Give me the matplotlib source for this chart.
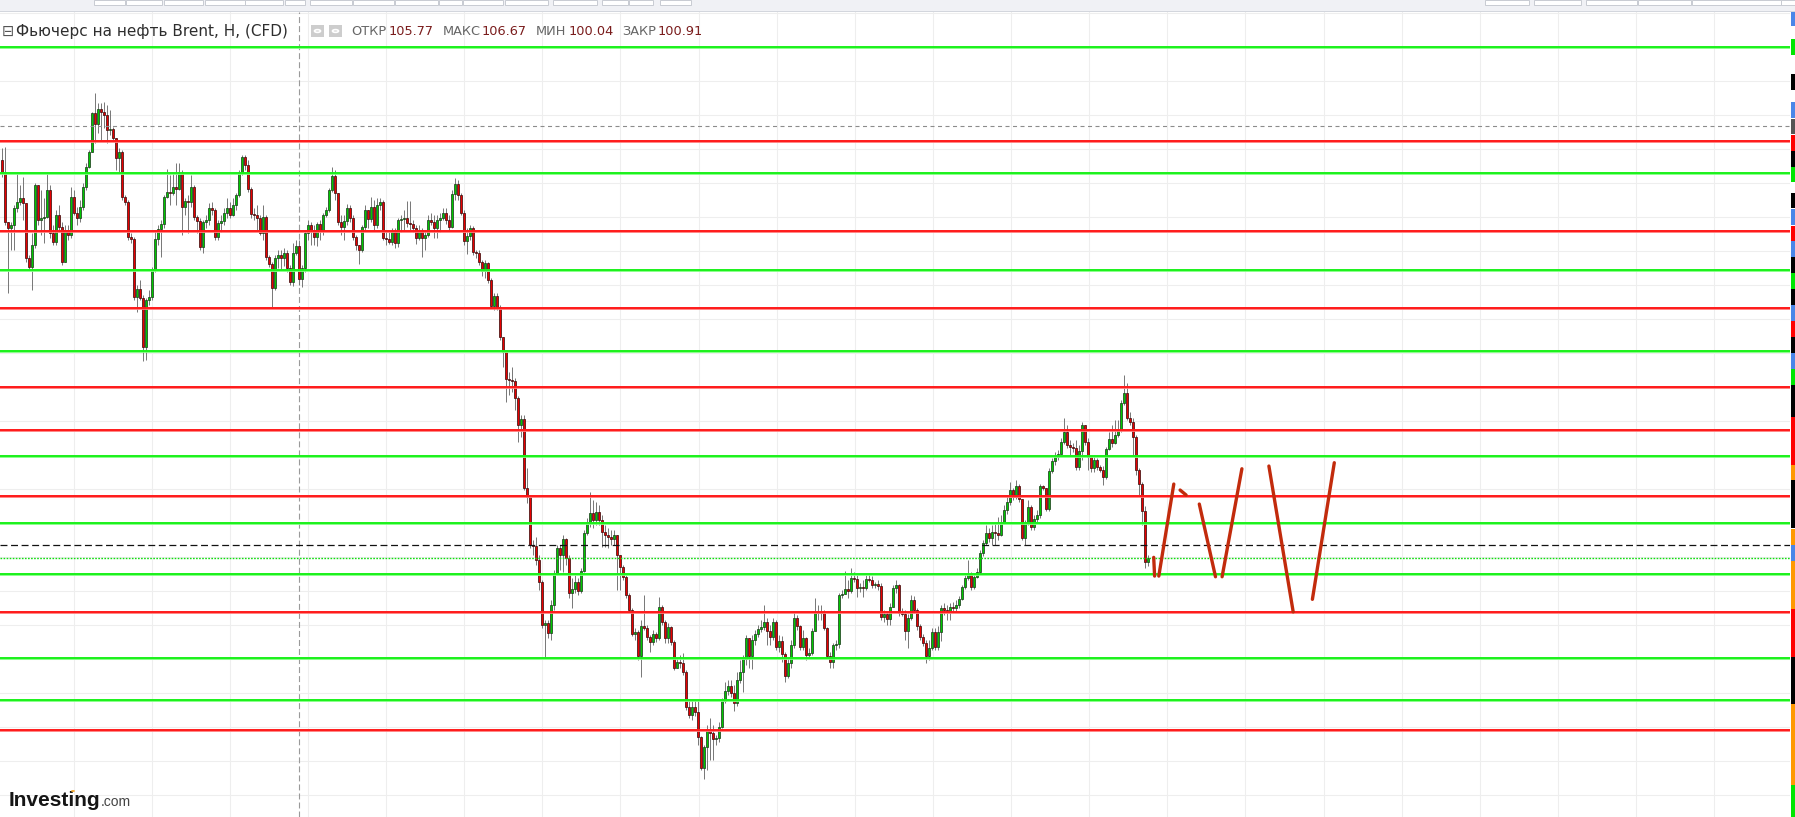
import numpy as np
import matplotlib
matplotlib.use("Agg")
import matplotlib.pyplot as plt
from matplotlib.patches import Rectangle, Circle

plt.rcParams['font.family'] = ['DejaVu Sans']
plt.rcParams['lines.scale_dashes'] = False

# ---------------- data ----------------
title = "Фьючерс на нефть Brent, Н, (CFD)"
ohlc_labels = ["ОТКР", "МАКС", "МИН", "ЗАКР"]
ohlc_values = ["105.77", "106.67", "100.04", "100.91"]

first_open = 118.43
closes = [
    116.67, 109.31, 108.43, 108.87, 111.37, 112.26, 112.84, 112.11, 104.02, 102.70,
    105.93, 114.76, 109.61, 109.90, 110.05, 114.02, 107.70, 106.37, 110.34, 108.58,
    103.43, 108.14, 107.40, 113.00, 110.64, 109.90, 111.52, 114.46, 117.40, 119.61,
    125.34, 123.73, 125.93, 125.49, 125.05, 122.84, 122.99, 121.67, 118.72, 119.61,
    113.00, 112.26, 107.11, 106.81, 98.29, 99.46, 98.14, 90.93, 97.84, 98.29,
    102.40, 106.81, 108.28, 109.02, 113.00, 113.73, 113.58, 114.46, 114.17, 116.67,
    111.52, 112.40, 112.26, 114.46, 110.05, 109.46, 105.64, 109.31, 109.61, 111.37,
    111.08, 107.11, 109.17, 109.46, 110.64, 111.37, 110.34, 111.81, 113.29, 116.67,
    118.87, 117.70, 114.17, 110.49, 110.34, 109.90, 107.70, 110.05, 104.17, 103.14,
    99.61, 104.02, 104.46, 104.02, 104.76, 102.55, 100.49, 104.76, 105.77, 100.91,
    102.55, 107.70, 108.87, 108.14, 107.11, 109.02, 108.14, 110.34, 111.08, 114.02,
    116.08, 113.58, 109.31, 108.58, 109.46, 111.37, 109.90, 107.11, 105.93, 105.20,
    108.58, 111.08, 109.75, 111.52, 108.87, 111.81, 112.26, 106.96, 106.81, 106.37,
    107.84, 106.22, 109.61, 109.75, 109.90, 109.17, 109.02, 108.43, 106.96, 108.14,
    106.96, 107.40, 109.61, 109.31, 108.43, 109.61, 109.90, 110.64, 109.61, 108.58,
    113.43, 114.90, 113.29, 110.64, 106.52, 107.25, 108.43, 104.90, 104.76, 103.43,
    102.11, 103.29, 100.79, 96.96, 98.43, 96.81, 92.40, 90.20, 86.23, 86.08,
    85.94, 83.43, 79.46, 80.35, 70.20, 68.87, 61.82, 61.67, 59.61, 56.37,
    50.05, 50.35, 48.87, 53.00, 57.70, 61.37, 60.35, 62.70, 59.90, 54.76,
    55.35, 56.37, 55.05, 57.99, 63.58, 65.20, 66.52, 65.49, 66.67, 65.49,
    63.73, 63.29, 62.99, 62.70, 63.29, 60.35, 58.58, 57.11, 54.47, 52.26,
    48.73, 49.02, 45.49, 49.90, 49.61, 48.29, 47.55, 48.73, 48.14, 52.70,
    50.49, 48.14, 49.76, 47.55, 43.73, 44.61, 44.46, 43.14, 37.99, 36.82,
    37.99, 37.26, 33.58, 29.02, 32.11, 34.76, 34.17, 33.29, 33.43, 35.05,
    38.87, 40.35, 41.08, 40.05, 38.58, 41.97, 43.14, 45.05, 48.14, 45.49,
    47.85, 48.73, 49.46, 49.76, 50.49, 49.17, 48.29, 50.49, 46.82, 47.70,
    45.79, 42.55, 44.46, 47.11, 51.08, 49.90, 46.82, 48.14, 45.64, 45.93,
    49.17, 51.82, 51.96, 51.82, 49.61, 45.49, 44.61, 47.11, 47.26, 54.47,
    54.61, 55.35, 55.05, 56.96, 56.81, 55.49, 55.64, 55.49, 56.81, 56.67,
    55.94, 56.08, 55.79, 51.23, 51.67, 50.93, 52.70, 55.49, 55.94, 51.82,
    51.67, 49.17, 51.08, 53.73, 52.26, 49.90, 48.29, 47.40, 45.49, 46.67,
    49.02, 46.82, 49.02, 52.55, 52.26, 51.96, 52.70, 52.55, 53.00, 53.88,
    55.64, 56.96, 57.55, 55.64, 57.11, 57.84, 60.64, 62.11, 63.58, 62.84,
    63.73, 63.58, 63.29, 65.20, 66.96, 68.14, 69.91, 68.87, 70.49, 68.58,
    62.84, 65.05, 67.40, 64.46, 65.64, 66.23, 70.49, 70.20, 67.11, 72.70,
    74.17, 74.76, 75.20, 76.96, 78.43, 76.52, 76.23, 76.08, 73.29, 75.64,
    79.46, 76.96, 74.76, 73.14, 74.32, 73.29, 72.85, 71.82, 75.93, 77.40,
    76.81, 77.99, 78.73, 82.70, 84.17, 80.49, 79.90, 77.70, 72.85, 70.79,
    66.81, 59.32, 59.90,
]
highs = [
    120.19, 120.34, 109.31, 109.31, 111.81, 116.52, 114.76, 115.94, 111.81, 104.46,
    107.70, 115.05, 114.31, 114.02, 112.84, 116.52, 114.76, 108.87, 111.08, 111.81,
    109.31, 108.87, 108.87, 114.46, 114.02, 111.52, 112.55, 115.05, 117.99, 119.90,
    125.49, 128.28, 126.81, 126.81, 126.96, 126.52, 125.78, 123.29, 121.67, 120.19,
    119.90, 113.29, 112.55, 107.70, 107.11, 100.05, 100.79, 98.58, 98.14, 99.32,
    102.70, 108.14, 108.87, 109.61, 113.29, 117.11, 116.23, 116.52, 117.99, 117.99,
    116.96, 112.84, 113.29, 116.23, 114.76, 110.34, 109.90, 109.61, 110.34, 112.11,
    112.26, 111.37, 109.61, 110.34, 111.37, 112.84, 112.26, 112.84, 113.58, 116.96,
    119.17, 119.17, 118.43, 114.46, 111.37, 111.81, 110.34, 111.81, 110.34, 104.46,
    103.43, 104.46, 105.20, 105.20, 105.49, 105.20, 102.99, 106.22, 106.67, 106.67,
    102.99, 108.14, 109.61, 109.31, 108.87, 109.31, 109.61, 110.64, 111.52, 114.31,
    117.40, 116.96, 113.58, 110.34, 110.34, 111.96, 111.81, 110.34, 107.40, 105.93,
    108.87, 111.81, 111.08, 113.00, 112.55, 112.84, 112.84, 112.55, 108.14, 108.14,
    108.43, 108.43, 109.90, 110.34, 111.08, 112.40, 112.40, 109.61, 108.87, 108.87,
    108.43, 108.14, 110.34, 110.64, 110.34, 110.34, 110.64, 111.37, 111.37, 110.34,
    114.02, 115.79, 115.49, 113.58, 111.08, 108.43, 108.87, 108.72, 105.20, 105.20,
    103.73, 103.73, 103.43, 101.08, 98.87, 98.87, 97.11, 92.26, 90.20, 87.26,
    87.99, 86.37, 83.73, 80.93, 80.93, 73.14, 69.17, 62.55, 63.00, 60.35,
    56.67, 50.79, 50.79, 53.73, 58.14, 61.82, 61.82, 63.29, 62.84, 60.35,
    56.96, 57.41, 56.96, 58.43, 64.02, 65.79, 69.61, 68.43, 68.14, 67.70,
    66.23, 64.76, 64.32, 64.02, 64.02, 63.29, 60.35, 58.88, 57.41, 54.76,
    52.55, 49.61, 49.32, 50.79, 54.47, 50.05, 48.58, 49.32, 49.02, 54.17,
    53.00, 50.79, 50.35, 49.90, 47.85, 45.19, 45.64, 45.93, 43.44, 39.02,
    39.02, 39.02, 39.02, 33.73, 32.41, 35.35, 36.38, 35.35, 33.88, 35.79,
    39.32, 41.67, 41.97, 41.97, 41.23, 43.14, 44.91, 45.64, 48.58, 47.85,
    48.58, 49.32, 50.05, 50.79, 53.00, 51.08, 50.05, 51.08, 50.79, 48.58,
    48.43, 46.08, 45.19, 47.85, 51.96, 51.52, 50.05, 49.32, 48.29, 46.67,
    49.61, 54.02, 53.00, 53.00, 52.26, 49.76, 46.08, 47.40, 47.85, 54.76,
    55.20, 57.99, 56.67, 58.43, 57.84, 57.41, 56.23, 56.67, 57.41, 57.55,
    57.26, 56.37, 56.67, 56.23, 52.26, 51.96, 53.29, 55.94, 56.67, 56.08,
    52.55, 52.26, 51.67, 54.47, 54.32, 52.55, 50.20, 48.73, 47.85, 47.85,
    49.61, 49.61, 49.90, 53.00, 53.29, 53.00, 53.29, 53.43, 53.73, 54.32,
    55.94, 57.41, 59.61, 57.84, 57.55, 58.43, 61.08, 62.55, 64.76, 64.32,
    64.76, 65.20, 65.93, 66.23, 67.70, 69.17, 71.08, 70.20, 71.38, 70.79,
    68.58, 65.49, 68.43, 67.70, 66.23, 66.96, 70.79, 70.64, 70.20, 73.14,
    74.61, 75.49, 75.79, 77.55, 80.49, 79.46, 77.26, 76.81, 77.26, 76.52,
    79.90, 79.17, 77.55, 75.05, 75.05, 74.61, 73.58, 73.43, 76.23, 78.43,
    79.46, 80.20, 80.20, 83.14, 86.82, 85.64, 81.37, 80.49, 77.99, 73.14,
    71.08, 67.55, 60.35,
]
lows = [
    115.94, 108.87, 98.87, 105.20, 105.20, 110.79, 111.81, 109.61, 103.43, 102.26,
    99.32, 105.49, 108.87, 107.40, 106.22, 109.90, 106.96, 105.93, 105.93, 107.84,
    102.99, 103.43, 106.67, 106.96, 110.34, 108.87, 109.31, 111.08, 114.02, 117.26,
    119.61, 120.93, 122.40, 121.37, 123.14, 120.93, 122.11, 121.37, 116.96, 116.67,
    112.55, 111.81, 106.67, 106.22, 97.84, 96.08, 97.84, 88.87, 89.02, 97.11,
    97.84, 101.96, 105.93, 104.17, 108.43, 112.84, 111.81, 113.29, 111.81, 114.02,
    107.40, 110.34, 107.70, 111.52, 109.61, 107.70, 105.20, 104.76, 108.43, 108.87,
    110.34, 106.67, 106.67, 107.84, 108.87, 109.90, 109.90, 110.20, 111.08, 113.00,
    116.23, 116.96, 113.73, 109.90, 109.61, 108.14, 107.40, 106.67, 103.73, 102.70,
    96.81, 99.32, 102.55, 102.26, 102.84, 101.96, 100.05, 99.90, 104.46, 100.04,
    99.76, 101.96, 106.67, 105.93, 105.93, 105.79, 106.67, 107.40, 110.05, 110.79,
    113.73, 112.55, 108.87, 107.40, 106.67, 108.87, 109.31, 106.67, 105.20, 103.14,
    104.90, 108.14, 108.43, 109.31, 108.14, 108.43, 111.08, 106.67, 105.93, 106.08,
    105.93, 105.49, 105.64, 107.84, 108.14, 108.58, 108.14, 107.84, 106.08, 106.67,
    104.17, 105.20, 107.11, 108.87, 106.96, 106.96, 107.84, 109.61, 109.02, 108.14,
    108.43, 112.55, 112.55, 110.34, 105.93, 104.61, 106.67, 104.46, 104.02, 102.99,
    101.37, 101.08, 100.35, 96.67, 96.37, 96.37, 91.96, 87.99, 82.84, 83.88,
    84.31, 81.67, 76.96, 77.70, 69.91, 67.99, 61.37, 60.35, 58.88, 55.20,
    49.61, 45.19, 48.14, 47.85, 52.26, 57.41, 58.14, 57.84, 58.88, 54.02,
    52.55, 54.76, 54.47, 54.76, 57.84, 63.29, 64.46, 64.32, 64.76, 64.76,
    61.52, 61.52, 61.37, 61.82, 61.82, 55.20, 55.20, 56.67, 54.02, 51.96,
    48.43, 47.85, 44.91, 42.40, 49.32, 47.85, 46.08, 47.11, 47.55, 47.85,
    50.05, 47.40, 47.40, 47.11, 43.44, 43.88, 43.73, 42.70, 37.55, 36.38,
    36.08, 36.67, 32.41, 28.73, 27.41, 28.73, 30.20, 30.20, 32.41, 32.84,
    34.90, 38.58, 39.76, 39.46, 37.40, 38.14, 41.52, 40.20, 44.17, 43.73,
    43.58, 47.11, 48.29, 49.02, 49.32, 47.11, 47.11, 47.85, 46.38, 46.08,
    44.61, 41.67, 42.26, 43.73, 46.67, 49.32, 46.38, 46.38, 44.91, 45.35,
    45.64, 49.61, 50.79, 50.79, 49.32, 45.19, 43.73, 43.73, 46.38, 46.67,
    54.02, 54.91, 54.02, 54.76, 56.37, 54.17, 54.91, 54.17, 55.20, 56.37,
    55.49, 55.49, 55.20, 50.79, 50.49, 50.05, 50.05, 53.43, 54.76, 51.37,
    51.37, 47.85, 46.67, 50.79, 51.82, 49.32, 47.85, 46.96, 44.46, 44.91,
    46.38, 46.38, 46.38, 47.70, 51.52, 50.79, 50.79, 51.96, 51.96, 52.55,
    53.73, 55.35, 56.67, 55.20, 55.35, 56.96, 57.55, 60.20, 61.82, 62.26,
    61.82, 61.82, 62.55, 63.14, 64.90, 66.38, 67.70, 68.43, 68.58, 68.14,
    62.55, 61.82, 64.76, 64.02, 64.02, 65.20, 65.79, 69.91, 66.81, 66.81,
    72.40, 73.58, 74.32, 75.90, 76.67, 76.08, 75.05, 75.49, 72.85, 72.85,
    74.32, 76.52, 72.85, 72.55, 72.55, 72.85, 72.55, 70.64, 71.52, 75.79,
    76.23, 76.67, 77.70, 78.43, 82.40, 80.20, 79.46, 75.05, 72.11, 69.17,
    64.76, 58.43, 58.73,
]

green_levels = [135.12, 116.59, 102.21, 90.34, 74.85, 65.00, 57.61, 45.15, 38.97]
red_levels = [121.27, 107.96, 96.62, 85.00, 78.68, 68.98, 51.92, 34.61]
gray_dash_level = 123.43
black_dash_level = 61.77
last_price = 59.87
crosshair_idx = 99

forecast_strokes = [
    [(383.9, 60.00), (384.2, 57.25)],
    [(385.6, 57.25), (390.6, 70.78)],
    [(392.7, 69.90), (394.7, 69.17)],
    [(399.1, 67.84), (404.5, 57.15)],
    [(406.7, 57.15), (413.3, 73.03)],
    [(422.3, 73.43), (430.4, 51.98)],
    [(436.8, 53.83), (444.1, 73.92)],
]

# ---------------- figure ----------------
W, H = 1795, 817
fig = plt.figure(figsize=(W / 100, H / 100), dpi=100)
fig.patch.set_facecolor('white')


def fx(px):
    return px / W


def fy(py):
    return 1 - py / H


ax = fig.add_axes([0, 0, 1790 / W, (H - 12) / H])
ax.set_xlim(-0.667, 596.0)
ax.set_ylim(21.82, 140.20)
for s in ax.spines.values():
    s.set_visible(False)
ax.set_xticks([])
ax.set_yticks([])

# grid
for p in np.arange(25, 141, 5):
    ax.axhline(p, color='#eeeeee', lw=0.8, zorder=0)
for gx in np.arange(23.87, 597, 26.04):
    ax.axvline(gx, color='#eeeeee', lw=0.8, zorder=0)

n = len(closes)
assert len(highs) == n and len(lows) == n, (n, len(highs), len(lows))
c = np.array(closes)
o = np.concatenate([[first_open], c[:-1]])
h = np.maximum(np.array(highs), np.maximum(o, c))
l = np.minimum(np.array(lows), np.minimum(o, c))
x = np.arange(n)
up = c >= o

ax.vlines(x, l, h, color='#767676', lw=0.7, zorder=2)
bot = np.minimum(o, c)
hgt = np.maximum(np.abs(c - o), 0.06)
ax.bar(x[up], hgt[up], bottom=bot[up], width=0.8, color='#00c800',
       edgecolor='#1f3f1f', linewidth=0.55, zorder=3)
ax.bar(x[~up], hgt[~up], bottom=bot[~up], width=0.8, color='#e80000',
       edgecolor='#401010', linewidth=0.55, zorder=3)

# crosshair
ax.axvline(crosshair_idx, color='#9a9a9a', lw=0.8, dashes=(4.3, 2.2), zorder=1)

# levels
for p in green_levels:
    ax.axhline(p, color='#80ff80', lw=2.0, zorder=4)
    ax.axhline(p, color='#00ee00', lw=1.1, zorder=4.1)
for p in red_levels:
    ax.axhline(p, color='#ff7a7a', lw=2.0, zorder=4)
    ax.axhline(p, color='#ff0000', lw=1.1, zorder=4.1)
ax.axhline(gray_dash_level, color='#8c8c8c', lw=0.8, dashes=(2.9, 2.5), zorder=4)
ax.axhline(black_dash_level, color='#111111', lw=0.9, dashes=(5.0, 2.6), zorder=4)
ax.axhline(last_price, color='#11dd11', lw=1.0, dashes=(1.2, 1.0), zorder=4)

# hand drawn forecast
for seg in forecast_strokes:
    xs = [pt[0] for pt in seg]
    ys = [pt[1] for pt in seg]
    ax.plot(xs, ys, color='#c22b0c', lw=2.4, solid_capstyle='round', zorder=6)

# ---------------- decorations ----------------
# toolbar
fig.add_artist(Rectangle((0, fy(11)), 1, 11 / H, transform=fig.transFigure,
                         facecolor='#f0f1f5', edgecolor='none', zorder=10))
fig.add_artist(Rectangle((0, fy(12)), 1, 1 / H, transform=fig.transFigure,
                         facecolor='#d3d6dd', edgecolor='none', zorder=10))
buttons = [(94, 125), (126, 162), (164, 203), (205, 245), (245, 283), (285, 305),
           (310, 352), (353, 394), (395, 438), (439, 462), (463, 503), (505, 548),
           (553, 597), (602, 628), (629, 653), (660, 691), (1485, 1529),
           (1534, 1581), (1586, 1637), (1638, 1691), (1692, 1781), (1781, 1795)]
for (a, b) in buttons:
    fig.add_artist(Rectangle((fx(a), fy(4.5)), fx(b - a), 4.5 / H,
                             transform=fig.transFigure, facecolor='white',
                             edgecolor='#c8cbd2', lw=0.7, zorder=11))

# right price-axis strip
strip = [(10, 26, '#4a86e8'), (39, 55, '#00e600'), (74, 90, '#000000'),
         (102, 118, '#4a86e8'), (119, 134, '#555555'), (135, 151, '#ff0000'),
         (151, 167, '#000000'), (167, 182, '#00e600'), (193, 208, '#000000'),
         (209, 225, '#4a86e8'), (226, 241, '#ff0000'), (241, 257, '#4a86e8'),
         (257, 273, '#000000'), (273, 289, '#00e600'), (289, 305, '#000000'),
         (305, 321, '#4a86e8'), (321, 337, '#ff0000'), (337, 353, '#000000'),
         (353, 369, '#4a86e8'), (369, 385, '#00e600'), (385, 417, '#000000'),
         (417, 465, '#ff0000'), (465, 480, '#ff9900'), (480, 528, '#000000'),
         (529, 545, '#ff9900'), (545, 561, '#4a86e8'), (561, 609, '#ff9900'),
         (609, 657, '#ff0000'), (657, 704, '#000000'), (704, 785, '#ff9900'),
         (785, 817, '#00e600')]
fig.add_artist(Rectangle((fx(1790.5), 0), fx(0.8), fy(12), transform=fig.transFigure,
                         facecolor='#8a8a8a', edgecolor='none', zorder=9))
for (t, b, col) in strip:
    fig.add_artist(Rectangle((fx(1791), fy(b)), fx(4), (b - t) / H,
                             transform=fig.transFigure, facecolor=col,
                             edgecolor='none', zorder=9))

# header
yc = fy(31.5)
fig.text(fx(2), yc, '⊟', fontsize=10.5, color='#555555', va='center', ha='left', zorder=12)
fig.text(fx(16), yc, title, fontsize=11.0, color='#2e2e2e', va='center', ha='left', zorder=12)
for xa in (311, 329):
    fig.add_artist(Rectangle((fx(xa), fy(37)), fx(13), 12 / H, transform=fig.transFigure,
                             facecolor='#cdcdcd', edgecolor='none', zorder=12))
    fig.add_artist(Circle((fx(xa + 6.5), fy(31)), 3.0 / W, transform=fig.transFigure,
                          facecolor='none', edgecolor='white', lw=1.2, zorder=13))
lab_x = [351, 443, 536, 622]
val_x = [389, 482, 569, 658]
for lx, vx, lab, val in zip(lab_x, val_x, ohlc_labels, ohlc_values):
    fig.text(fx(lx), yc, lab, fontsize=9.3, color='#666666', va='center', ha='left', zorder=12)
    fig.text(fx(vx), yc, val, fontsize=9.3, color='#7a1c1c', va='center', ha='left', zorder=12)

# logo
fig.text(fx(9), fy(806), 'Investing', fontsize=15, fontweight='bold',
         family=['Liberation Sans', 'DejaVu Sans'], color='#151515', va='baseline', ha='left', zorder=12)
fig.text(fx(101), fy(806), '.com', fontsize=10, family=['Liberation Sans', 'DejaVu Sans'],
         color='#444444', va='baseline', ha='left', zorder=12)
fig.add_artist(Circle((fx(73), fy(791)), 2.0 / W, transform=fig.transFigure,
                      facecolor='#f5a623', edgecolor='none', zorder=13))

fig.savefig('out.png', dpi=100, facecolor='white')
